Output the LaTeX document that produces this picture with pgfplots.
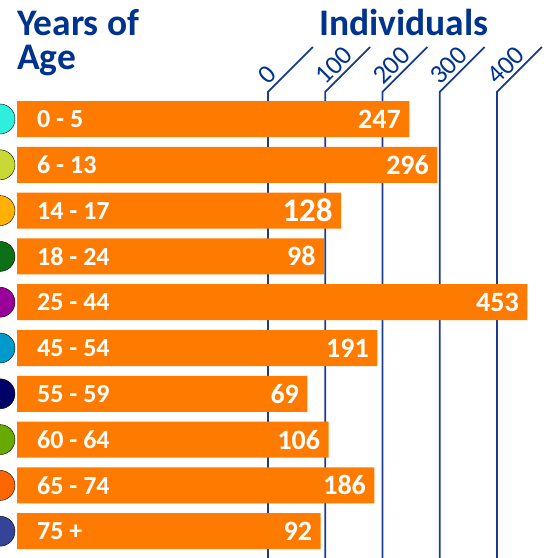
\documentclass[border=0pt]{standalone}
\usepackage{fontspec}
\setmainfont{Carlito}
\usepackage{pgfplots}
\pgfplotsset{compat=1.18}
\usepackage{pgfplotstable}
\definecolor{barorange}{HTML}{FF7B00}
\definecolor{navy}{HTML}{00338D}
\definecolor{lineblue}{HTML}{1A3C8C}
\definecolor{c0}{HTML}{2EEFDC}
\definecolor{c1}{HTML}{C8D835}
\definecolor{c2}{HTML}{FFB000}
\definecolor{c3}{HTML}{0E7016}
\definecolor{c4}{HTML}{990099}
\definecolor{c5}{HTML}{0099CC}
\definecolor{c6}{HTML}{000066}
\definecolor{c7}{HTML}{66AA00}
\definecolor{c8}{HTML}{FF6600}
\definecolor{c9}{HTML}{334499}
\pgfplotstableread{
i v
0 247
1 296
2 128
3 98
4 453
5 191
6 69
7 106
8 186
9 92
}\agedata
\newcommand\tickfont{\fontsize{26.5}{26.5}\selectfont}
\begin{document}
\begin{tikzpicture}
\begin{axis}[
 at={(0,0)}, anchor=south west,
 scale only axis, width=548pt, height=466pt,
 xmin=-30, xmax=927.2, ymin=-0.5895, ymax=9.585, y dir=reverse,
 axis line style={draw=none}, tick style={draw=none},
 ytick=\empty, xtick=\empty,
 clip=false,
 /pgf/number format/assume math mode=true,
]
\addplot[lineblue, line width=1.8pt, line join=miter] coordinates {(438,9.585)(438,-0.5895)(516.6,-1.572)};
\addplot[lineblue, line width=1.8pt, line join=miter] coordinates {(538,9.585)(538,-0.5895)(616.6,-1.572)};
\addplot[lineblue, line width=1.8pt, line join=miter] coordinates {(638,9.585)(638,-0.5895)(716.6,-1.572)};
\addplot[lineblue, line width=1.8pt, line join=miter] coordinates {(738,9.585)(738,-0.5895)(816.6,-1.572)};
\addplot[lineblue, line width=1.8pt, line join=miter] coordinates {(838,9.585)(838,-0.5895)(916.6,-1.572)};
\addplot[only marks, mark=*, mark size=0pt,
  scatter/use mapped color={draw opacity=0, fill opacity=0},
  point meta=explicit symbolic, nodes near coords={\tickfont\pgfplotspointmeta},
  every node near coord/.append style={xshift=0.5pt, yshift=6pt, rotate=45, anchor=base west, inner sep=0pt, text=navy, text opacity=1}]
  coordinates {(438,-0.5895)[0] (538,-0.5895)[100] (638,-0.5895)[200] (738,-0.5895)[300] (838,-0.5895)[400]};
\addplot[xbar, bar width=36pt, bar shift=0pt, fill=barorange, draw=none,
  point meta=explicit symbolic,
  nodes near coords={\ifnum\pgfplotspointmeta=128\relax\fontsize{33}{33}\selectfont\fi\pgfplotspointmeta},
  every node near coord/.append style={anchor=east, xshift=-5pt, text=white, font=\bfseries\fontsize{28}{28}\selectfont}]
  table[x expr=\thisrow{v}+438, y=i, meta=v] {\agedata};
\addplot[only marks, mark=*, mark size=0pt,
  scatter/use mapped color={draw opacity=0, fill opacity=0},
  point meta=explicit symbolic, nodes near coords={\pgfplotspointmeta},
  every node near coord/.append style={anchor=west, inner sep=0pt, text=white, text opacity=1, font=\bfseries\fontsize{26}{26}\selectfont}]
  coordinates {(34.6,0)[0 - 5] (34.6,1)[6 - 13] (34.6,2)[14 - 17] (34.6,3)[18 - 24] (34.6,4)[25 - 44]
  (34.6,5)[45 - 54] (34.6,6)[55 - 59] (34.6,7)[60 - 64] (34.6,8)[65 - 74] (34.6,9)[75 +]};
\addplot[scatter, only marks, mark=*, mark size=15pt, point meta=explicit symbolic,
  scatter/classes={a={fill=c0,draw=none}, b={fill=c1,draw=none}, c={fill=c2,draw=none},
  d={fill=c3,draw=none}, e={fill=c4,draw=none}, f={fill=c5,draw=none}, g={fill=c6,draw=none},
  h={fill=c7,draw=none}, k={fill=c8,draw=none}, m={fill=c9,draw=none}}]
  coordinates {(-30,0)[a] (-30,1)[b] (-30,2)[c] (-30,3)[d] (-30,4)[e] (-30,5)[f] (-30,6)[g] (-30,7)[h] (-30,8)[k] (-30,9)[m]};
\end{axis}
\node[anchor=base west, inner sep=0pt, text=navy, font=\bfseries\fontsize{37.5}{37.5}\selectfont] at (17pt,522pt) {Years of};
\node[anchor=base west, inner sep=0pt, text=navy, font=\bfseries\fontsize{37.5}{37.5}\selectfont] at (17pt,488pt) {Age};
\node[anchor=base west, inner sep=0pt, text=navy, font=\bfseries\fontsize{37.5}{37.5}\selectfont] at (319pt,522pt) {Individuals};
\pgfresetboundingbox
\useasboundingbox (0,0) rectangle (548pt,558pt);
\end{tikzpicture}
\end{document}
